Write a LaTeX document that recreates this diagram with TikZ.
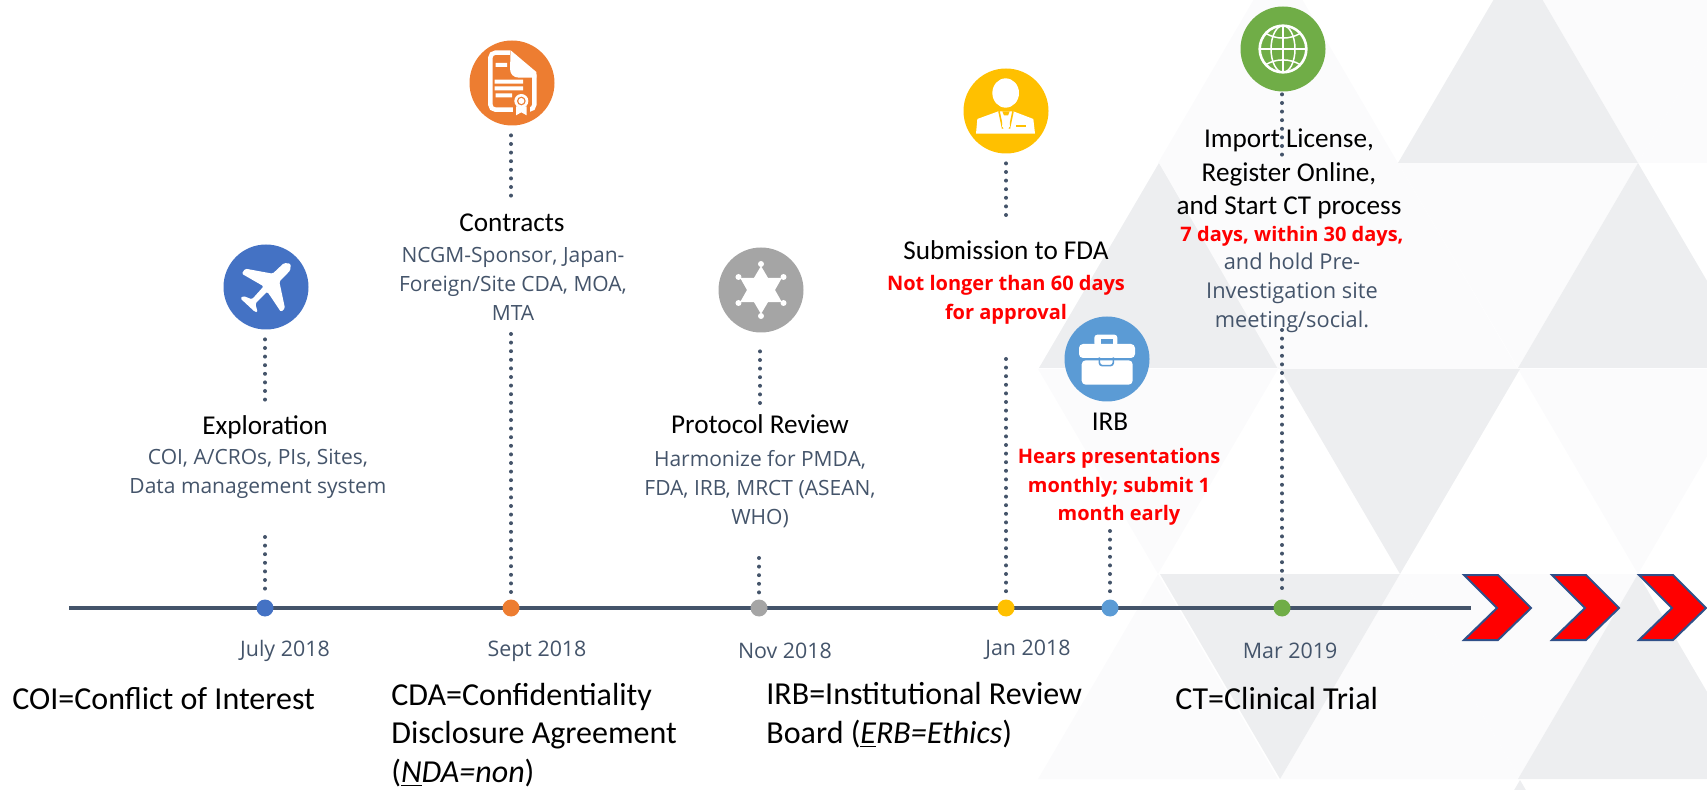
\documentclass[tikz,border=0pt]{standalone}
\usepackage{fontspec}
\setmainfont{Carlito}
\newfontfamily\notefont{Open Sans}
\usetikzlibrary{arrows.meta}
\definecolor{slate}{HTML}{44546A}
\definecolor{triDark}{HTML}{EDEEF0}
\definecolor{triLight}{HTML}{FBFBFC}
\definecolor{planeblue}{HTML}{4472C4}
\definecolor{docorange}{HTML}{ED7D31}
\definecolor{stargray}{HTML}{A5A5A5}
\definecolor{suityellow}{HTML}{FFC000}
\definecolor{caseblue}{HTML}{5B9BD5}
\definecolor{globegreen}{HTML}{70AD47}
\tikzset{
    dot/.style={circle, inner sep=0pt, minimum size=8.5pt}, % timeline marks
    icon/.style={circle, inner sep=0pt, minimum size=42.5pt},
    stem/.style={slate, line width=2pt, line cap=round, dash pattern=on 0pt off 4.3pt},
    timeline/.style={slate, line width=2.2pt},
    chevron/.style={fill=red, draw=planeblue!70!black, line width=1pt, line join=miter},
    head/.style={align=center, font=\fontsize{13.6}{16.7}\selectfont, inner sep=0pt},
    note/.style={align=center, text=slate, font=\notefont\fontsize{10.5}{14.6}\selectfont, inner sep=0pt},
    alert/.style={align=center, text=red, font=\notefont\bfseries\fontsize{10}{14.4}\selectfont, inner sep=0pt},
    date/.style={text=slate, font=\notefont\fontsize{10.7}{12}\selectfont, inner sep=0pt},
    gloss/.style={align=left, anchor=west, font=\fontsize{16}{19.5}\selectfont, inner sep=0pt}
}
\begin{document}
\begin{tikzpicture}[x=0.5pt, y=-0.5pt]
    \useasboundingbox (0,0) rectangle (1707,790);
    % backdrop
    \begin{scope}
        \clip (0,0) rectangle (1707,790);
        \foreach \a/\b in {1278/-42, 1758/-42, 1159/163, 1158/574, 1400/574}{
            \fill[triLight] (\a,\b) -- ++(-120,205) -- ++(240,0) -- cycle;}
        \foreach \a/\b in {1159/163, 1398/163, 1038/369, 1518/369, 1400/574, 1518/-42}{
            \fill[triLight] (\a,\b) -- ++(240,0) -- ++(-120,205) -- cycle;}
        \foreach \a/\b in {1518/-42, 1159/163, 1638/163, 1638/574, 1520/780}{
            \fill[triDark] (\a,\b) -- ++(-120,205) -- ++(240,0) -- cycle;}
        \foreach \a/\b in {1280/369, 1160/574}{
            \fill[triDark] (\a,\b) -- ++(240,0) -- ++(-120,205) -- cycle;}
        \fill[triLight] (1159,163) -- (1398,163) -- (1278,369) -- cycle;
        \fill[triLight] (1398,163) -- (1518,369) -- (1278,369) -- cycle;
    \end{scope}

    \coordinate (linestart) at (69,608);
    \coordinate (lineend) at (1471,608);
    \draw[timeline] (linestart) -- (lineend);

    \foreach \x in {0,88,175}{
        \draw[chevron] (1464+\x,575) -- (1498+\x,575) -- (1531+\x,608) -- (1498+\x,640) -- (1464+\x,640) -- (1497+\x,608) -- cycle;}

    \node[dot, fill=planeblue] (julydot) at (265,608) {};
    \node[dot, fill=docorange] (septdot) at (511,608) {};
    \node[dot, fill=stargray] (novdot) at (759,608) {};
    \node[dot, fill=suityellow] (jandot) at (1006,608) {};
    \node[dot, fill=caseblue] (irbdot) at (1110,608) {};
    \node[dot, fill=globegreen] (mardot) at (1282,608) {};

    \node[icon, fill=planeblue] (planeicon) at (266,287) {};
    \node[icon, fill=docorange] (docicon) at (512,83) {};
    \node[icon, fill=stargray] (staricon) at (761,290) {};
    \node[icon, fill=suityellow] (suiticon) at (1006,111) {};
    \node[icon, fill=caseblue] (caseicon) at (1107,359) {};
    \node[icon, fill=globegreen] (globeicon) at (1283,49) {};

    % dotted stems, icon down to text, then text down to timeline
    \foreach \n/\x/\y/\s in {planeicon/265/400/4.75, docicon/511/196/4.75, staricon/760/403/9.25, suiticon/1006/223/4.75, globeicon/1282/155/1.25}{
        \coordinate (\n end) at (\x,\y);
        \draw[stem, shorten <=\s pt] (\n.south -| \n end) -- (\n end);}
    \foreach \n/\x/\y in {julydot/265/537, septdot/511/334, novdot/759/558, jandot/1006/359, irbdot/1110/531, mardot/1282/330}{
        \coordinate (\n top) at (\x,\y);
        \draw[stem, shorten >=3pt] (\n top) -- (\n.north -| \n top);}

    \node[head] (explorehead) at (265,427) {Exploration};
    \node[note] (explorenote) at (258,474) {COI, A/CROs, PIs, Sites,\\Data management system};
    \node[head] (contracthead) at (512,223) {Contracts};
    \node[note] (contractnote) at (513,284) {NCGM-Sponsor, Japan-\\Foreign/Site CDA, MOA,\\MTA};
    \node[head] (protocolhead) at (760,424) {Protocol Review};
    \node[note] (protocolnote) at (760,489) {Harmonize for PMDA,\\FDA, IRB, MRCT (ASEAN,\\WHO)};
    \node[head] (fdahead) at (1006,250) {Submission to FDA};
    \node[alert] (fdanote) at (1006,300) {Not longer than 60 days\\for approval};
    \node[head] (irbhead) at (1110,422) {IRB};
    \node[alert] (irbnote) at (1119,487) {Hears presentations\\monthly; submit 1\\month early};
    \node[head] (importhead) at (1289,174) {Import License,\\Register Online,\\and Start CT process};
    \node[alert] (importalert) at (1292,236) {7 days, within 30 days,};
    \node[note, font=\notefont\fontsize{10.9}{14.6}\selectfont] (importnote) at (1292,293) {and hold Pre-\\Investigation site\\meeting/social.};

    \node[date] (julydate) at (285,651) {July 2018};
    \node[date] (septdate) at (537,651) {Sept 2018};
    \node[date] (novdate) at (785,651) {Nov 2018};
    \node[date] (jandate) at (1028,650) {Jan 2018};
    \node[date] (mardate) at (1290,651) {Mar 2019};

    \node[gloss] (coigloss) at (12,699) {COI=Conflict of Interest};
    \node[gloss, font=\fontsize{16}{19.2}\selectfont] (cdagloss) at (391,735) {CDA=Confidentiality\\Disclosure Agreement\\(\textit{\underline{N}DA=non})};
    \node[gloss] (irbgloss) at (766,715) {IRB=Institutional Review\\Board (\textit{\underline{E}RB=Ethics})};
    \node[gloss] (ctgloss) at (1175,699) {CT=Clinical Trial};

    % plane
    \begin{scope}[shift={(266,287)}, scale=0.3333, shift={(-258,-862)}]
        \fill[white, rounded corners=0.7pt] (332,792) -- (331,812) -- (298,846) -- (315,926) -- (303,937) -- (262,876) -- (226,912) -- (233,938) -- (224,936) -- (181,896) -- (190,889) -- (216,899) -- (251,860) -- (185,822) -- (196,807) -- (278,822) -- (312,790) -- cycle;
    \end{scope}
    % contract
    \begin{scope}[shift={(512,83)}, scale=0.3333, shift={(-997,-248)}]
        \draw[white, line width=2.2pt, rounded corners=2.5pt] (1002,328) -- (932,328) -- (932,157) -- (992,157);
        \draw[white, line width=2.2pt, rounded corners=2.5pt] (1064,222) -- (1064,328) -- (1048,328);
        \fill[white] (993,150) -- (1070,215) -- (1070,232) -- (1018,232) .. controls (1000,232) and (991,220) .. (991,205) -- cycle;
        \fill[white] (948,188) rectangle (982,200) (945,238) rectangle (1030,250) (945,258) rectangle (1030,270) (948,279) rectangle (997,291);
        \fill[docorange] (1000,280) rectangle (1050,345);
        \fill[white] (1009,318) -- (1009,345) -- (1025,336) -- (1041,345) -- (1041,318) -- cycle;
        \fill[white] (1025,302) circle (21);
        \fill[docorange] (1025,302) circle (13);
        \fill[white] (1025,302) circle (9);
    \end{scope}
    % star
    \begin{scope}[shift={(761,290)}, scale=0.3333]
        \fill[white] (90:72) -- (60:42) -- (30:72) -- (0:42) -- (-30:72) -- (-60:42) -- (-90:72) -- (-120:42) -- (-150:72) -- (180:42) -- (150:72) -- (120:42) -- cycle;
        \foreach \t in {30,90,...,330}{\fill[white] (\t:78) circle (9);}
    \end{scope}
    % person
    \begin{scope}[shift={(1006,111)}, scale=0.3333, shift={(-978,-154)}]
        \fill[white] (977,100) ellipse (40 and 44);
        \fill[white] (888,222) -- (892,178) -- (955,155) -- (1000,155) -- (1060,178) -- (1065,222) -- cycle;
        \draw[suityellow, line width=0.8pt] (957,155) -- (968,207) (999,155) -- (988,207);
        \fill[suityellow] (967,155) -- (989,155) -- (983,170) -- (973,170) -- cycle;
        \fill[white] (971,167) -- (985,167) -- (990,200) -- (978,212) -- (966,200) -- cycle;
        \fill[suityellow] (1008,195) rectangle (1038,203);
    \end{scope}
    % case
    \begin{scope}[shift={(1107,359)}, scale=0.3333, shift={(-1281,-898)}]
        \fill[white, rounded corners=1.5pt] (1243,860) -- (1243,825) -- (1312,825) -- (1312,860) -- cycle;
        \fill[caseblue] (1262,838) rectangle (1298,853);
        \fill[white, rounded corners=2pt] (1197,895) -- (1197,853) -- (1365,853) -- (1365,895) -- cycle;
        \fill[white, rounded corners=2pt] (1205,902) -- (1205,975) -- (1358,975) -- (1358,902) -- cycle;
        \draw[caseblue, line width=0.8pt, rounded corners=1.5pt] (1197,898) -- (1258,898) (1300,898) -- (1365,898) (1258,893) -- (1258,918) -- (1300,918) -- (1300,893);
    \end{scope}
    % globe
    \begin{scope}[shift={(1283,49)}, scale=0.3333, white, line width=0.75pt]
        \draw[line width=1.3pt] (0,0) circle (70);
        \draw (0,0) ellipse (36 and 70);
        \draw (0,-70) -- (0,70) (-70,0) -- (70,0);
        \draw (-52,-47) .. controls (-20,-28) and (20,-28) .. (52,-47);
        \draw (-52,47) .. controls (-20,28) and (20,28) .. (52,47);
    \end{scope}
\end{tikzpicture}
\end{document}
